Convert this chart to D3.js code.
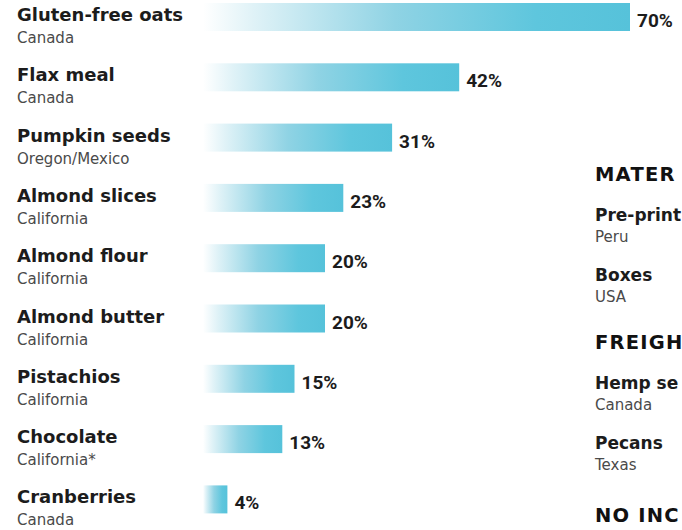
<!DOCTYPE html>
<html>
<head>
<meta charset="utf-8">
<script src="https://cdn.jsdelivr.net/npm/d3@7"></script>
<style>
  html, body { margin: 0; padding: 0; background: #fff; }
  svg { display: block; }
</style>
</head>
<body>
<svg id="chart" width="682" height="530"></svg>
<script>
// ---- data ----
const ingredients = ["Gluten-free oats", "Flax meal", "Pumpkin seeds", "Almond slices", "Almond flour", "Almond butter", "Pistachios", "Chocolate", "Cranberries"];
const origins = ["Canada", "Canada", "Oregon/Mexico", "California", "California", "California", "California", "California*", "Canada"];
const increases = [70, 42, 31, 23, 20, 20, 15, 13, 4];

// right-hand panel, as visible in the (cropped) picture
const sectionHeaders = ["MATER", "FREIGH", "NO INC"];
const sectionItems = [["Pre-print", "Boxes"], ["Hemp se", "Pecans"], []];
const sectionOrigins = [["Peru", "USA"], ["Canada", "Texas"], []];

// ---- layout ----
const svg = d3.select("#chart");
const step = 60.3, barH = 28;
const n = ingredients.length;
const p = 1 - barH / step;
const y = d3.scaleBand().domain(ingredients)
  .range([3, 3 + (n - p) * step]).paddingInner(p).paddingOuter(0);
const x = d3.scaleLinear().domain([0, 70]).range([203, 630]);

const defs = svg.append("defs");
const grad = defs.append("linearGradient").attr("id", "barGrad")
  .attr("x1", "0%").attr("x2", "100%").attr("y1", "0%").attr("y2", "0%");
grad.append("stop").attr("offset", "0%").attr("stop-color", "#ffffff");
grad.append("stop").attr("offset", "12%").attr("stop-color", "#dff2f7");
grad.append("stop").attr("offset", "45%").attr("stop-color", "#8fd3e4");
grad.append("stop").attr("offset", "78%").attr("stop-color", "#5ec6dd");
grad.append("stop").attr("offset", "100%").attr("stop-color", "#56c2da");

const data = ingredients.map((d, i) => ({ name: d, origin: origins[i], value: increases[i] }));

const rows = svg.append("g").selectAll("g").data(data).join("g");

rows.append("rect")
  .attr("x", x(0))
  .attr("y", d => y(d.name))
  .attr("width", d => x(d.value) - x(0))
  .attr("height", y.bandwidth())
  .attr("fill", "url(#barGrad)");

rows.append("text")
  .attr("x", 17)
  .attr("y", d => y(d.name) + 18)
  .attr("font-family", "DejaVu Sans")
  .attr("font-weight", 700)
  .attr("font-size", 18)
  .attr("fill", "#1c1c1c")
  .text(d => d.name);

rows.append("text")
  .attr("x", 17)
  .attr("y", d => y(d.name) + 40)
  .attr("font-family", "DejaVu Sans")
  .attr("font-size", 15)
  .attr("fill", "#4a4a4a")
  .text(d => d.origin);

rows.append("text")
  .attr("x", d => x(d.value) + 7)
  .attr("y", d => y(d.name) + 24)
  .attr("font-family", "Roboto")
  .attr("font-weight", 700)
  .attr("font-size", 19)
  .attr("fill", "#1c1c1c")
  .text(d => d.value + "%");

// ---- right panel ----
const rx = 595;
const right = svg.append("g");
const headerY = [181, 349, 522];
sectionHeaders.forEach((h, si) => {
  right.append("text")
    .attr("x", rx).attr("y", headerY[si])
    .attr("font-family", "DejaVu Sans")
    .attr("font-weight", 700)
    .attr("font-size", 19.5)
    .attr("letter-spacing", 1.2)
    .attr("fill", "#111")
    .style("-webkit-text-stroke", "0.6px #111")
    .text(h);
  sectionItems[si].forEach((it, ii) => {
    const by = headerY[si] + 40 + ii * 60;
    right.append("text")
      .attr("x", rx).attr("y", by)
      .attr("font-family", "DejaVu Sans")
      .attr("font-weight", 700)
      .attr("font-size", 17)
      .attr("fill", "#1c1c1c")
      .text(it);
    right.append("text")
      .attr("x", rx).attr("y", by + 21)
      .attr("font-family", "DejaVu Sans")
      .attr("font-size", 15)
      .attr("fill", "#4a4a4a")
      .text(sectionOrigins[si][ii]);
  });
});
</script>
</body>
</html>
